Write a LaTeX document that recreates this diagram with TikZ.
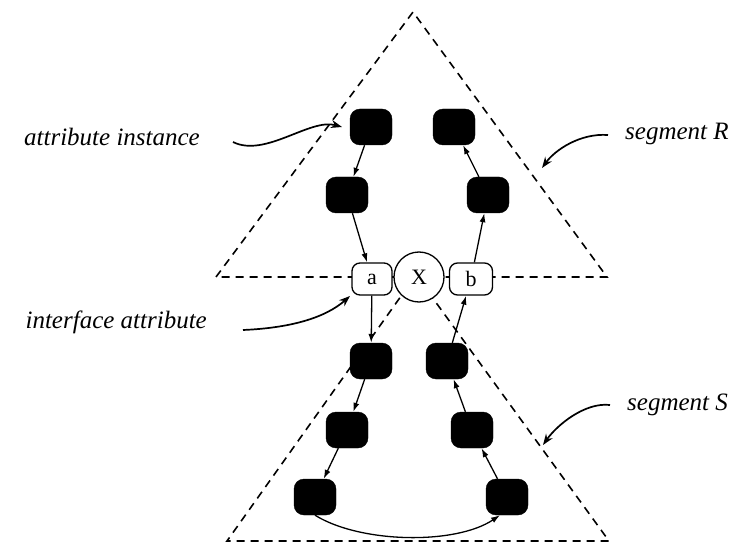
\documentclass[tikz,border=0pt]{standalone}
\usepackage{fontspec}
\setmainfont{Liberation Serif}
\usetikzlibrary{arrows.meta}
\begin{document}
\begin{tikzpicture}[x=1pt,y=-1pt,
  seg/.style={dash pattern=on 8pt off 6pt, line width=1.6pt},
  inst/.style={draw=black, fill=black, rounded corners=10pt, minimum width=42pt,
    minimum height=36pt, inner sep=0pt},
  iface/.style={draw, fill=white, rounded corners=8pt, line width=1.3pt,
    minimum height=32pt, inner sep=0pt, font=\fontsize{22}{22}\selectfont},
  junction/.style={circle, draw, fill=white, line width=1.3pt, minimum size=50pt,
    inner sep=0pt, font=\fontsize{22}{22}\selectfont},
  flow/.style={-{Latex[length=9pt,width=6pt]}, line width=1.3pt},
  note/.style={font=\fontsize{25}{25}\selectfont\itshape, inner sep=0pt},
  pointer/.style={-{Stealth[length=11pt,width=8pt]}, line width=1.7pt}
]
\useasboundingbox (0,0) rectangle (747,548);

% segment outlines
\coordinate (Rtop) at (413,12);
\coordinate (Rleft) at (216,277);
\coordinate (Rright) at (607,277);
\coordinate (Stop) at (416,275);
\coordinate (Sleft) at (227,541);
\coordinate (Sright) at (609,541);
\draw[seg] (Rleft) -- (Rtop) -- (Rright) -- cycle;
\draw[seg] (Stop) -- (Sleft) -- (Sright) -- cycle;

% attribute instances
\node[inst] (u1) at (371,127) {};
\node[inst] (u2) at (347,195) {};
\node[inst] (v1) at (454,127) {};
\node[inst] (v2) at (488,195) {};
\node[inst] (l1) at (371,361) {};
\node[inst] (l2) at (347,430) {};
\node[inst] (l3) at (315,497) {};
\node[inst] (r1) at (447,361) {};
\node[inst] (r2) at (472,430) {};
\node[inst] (r3) at (507,497) {};

% interface attributes and junction
\node[iface, minimum width=40pt] (a) at (372,279) {a};
\node[iface, minimum width=43pt] (b) at (471,279) {b};
\node[junction] (x) at (419,277) {X};

% dependency chain
\draw[flow] (u1) -- (u2);
\draw[flow] (u2) -- (a);
\draw[flow] (a) -- (l1);
\draw[flow] (l1) -- (l2);
\draw[flow] (l2) -- (l3);
\draw[flow] (l3.south) .. controls +(45,28) and +(-45,30) .. ([xshift=-7pt]r3.south);
\draw[flow] (r3) -- (r2);
\draw[flow] (r2) -- (r1);
\draw[flow] (r1) -- (b);
\draw[flow] (b) -- (v2);
\draw[flow] (v2) -- (v1);

% annotations
\node[note, anchor=base east] (ti) at (200,146) {attribute instance};
\node[note, anchor=base east] (tf) at (207,328) {interface attribute};
\node[note, anchor=base west] (tr) at (625,140) {segment R};
\node[note, anchor=base west] (ts) at (627,410) {segment S};
\coordinate (ti-end) at (342,127);
\coordinate (tf-end) at (350,296);
\coordinate (tr-end) at (542,168);
\coordinate (ts-end) at (543,445);
\draw[pointer] ([xshift=33pt,yshift=4pt]ti.base east) .. controls +(32,16) and +(-32,-9) .. (ti-end);
\draw[pointer] ([xshift=36pt,yshift=-2pt]tf.base east) .. controls +(47,-2) and +(-25,22) .. (tf-end);
\draw[pointer] ([xshift=-17pt,yshift=5pt]tr.base west) .. controls +(-28,-2) and +(13,-18) .. (tr-end);
\draw[pointer] ([xshift=-17pt,yshift=5pt]ts.base west) .. controls +(-25,-3) and +(14,-20) .. (ts-end);
\end{tikzpicture}
\end{document}
